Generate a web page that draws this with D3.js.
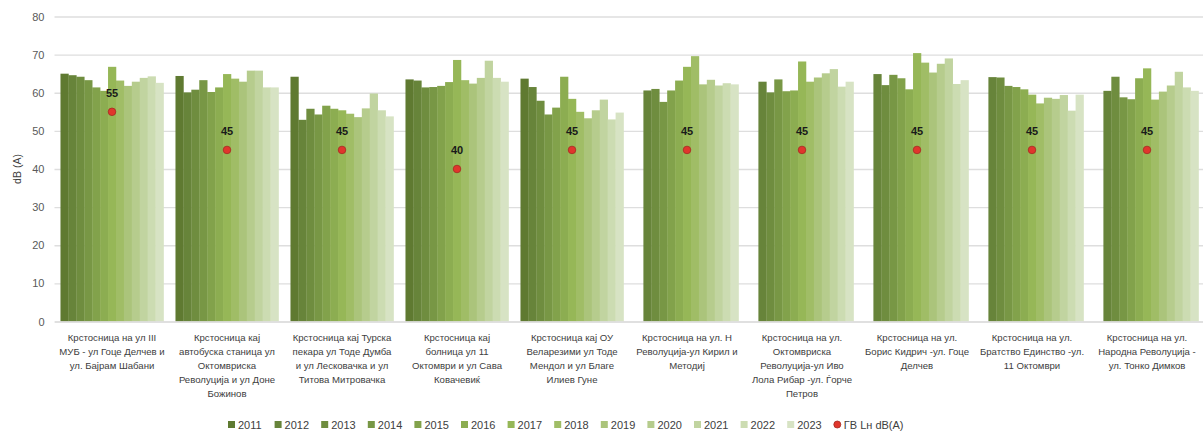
<!DOCTYPE html>
<html>
<head>
<meta charset="utf-8">
<script src="https://cdn.jsdelivr.net/npm/d3@7"></script>
<style>
  body { margin: 0; background: #fff; }
  text { font-family: "Liberation Sans", Arial, sans-serif; }
</style>
</head>
<body>
<div id="chart"></div>
<script>
// years (series)
var years = ["2011","2012","2013","2014","2015","2016","2017","2018","2019","2020","2021","2022","2023"];

// locations, each label already split in lines
var locations = [
  ["Крстосница на ул III", "МУБ - ул Гоце Делчев и", "ул. Бајрам Шабани"],
  ["Крстосница кај", "автобуска станица ул", "Октомвриска", "Револуција и ул Доне", "Божинов"],
  ["Крстосница кај Турска", "пекара ул Тоде Думба", "и ул Лесковачка и ул", "Титова Митровачка"],
  ["Крстосница кај", "болница ул 11", "Октомври и ул Сава", "Ковачевиќ"],
  ["Крстосница кај ОУ", "Веларезими ул Тоде", "Мендол и ул Благе", "Илиев Гуне"],
  ["Крстосница на ул. Н", "Револуција-ул Кирил и", "Методиј"],
  ["Крстосница на ул.", "Октомвриска", "Револуција-ул Иво", "Лола Рибар -ул. Ѓорче", "Петров"],
  ["Крстосница на ул.", "Борис Кидрич -ул. Гоце", "Делчев"],
  ["Крстосница на ул.", "Братство Единство -ул.", "11 Октомври"],
  ["Крстосница на ул.", "Народна Револуција -", "ул. Тонко Димков"]
];

// measured Ln dB(A), one row per location, one value per year (null = no measurement)
var levels = [
  [65.0, 64.6, 64.2, 63.3, 61.4, 60.5, 66.8, 63.2, 61.8, 62.9, 63.9, 64.3, 62.6],
  [64.4, 60.1, 60.8, 63.3, 60.2, 61.4, 64.9, 63.7, 62.9, 65.8, 65.8, 61.4, 61.4],
  [64.2, 52.9, 55.8, 54.3, 56.6, 55.8, 55.4, 54.5, 53.6, 55.9, 59.8, 55.4, 53.8],
  [63.5, 63.2, 61.4, 61.5, 61.8, 62.8, 68.6, 63.3, 62.4, 63.9, 68.4, 63.9, 62.9],
  [63.7, 61.5, 57.9, 54.3, 56.1, 64.2, 58.4, 55.0, 53.3, 55.4, 58.2, 53.0, 54.8],
  [null, 60.6, 61.0, 57.6, 60.6, 63.2, 66.8, 69.6, 62.2, 63.4, 61.9, 62.5, 62.2],
  [null, 62.9, 60.1, 63.5, 60.4, 60.6, 68.2, 62.9, 64.0, 65.1, 66.2, 61.6, 62.9],
  [null, 64.9, 62.0, 64.7, 63.8, 60.9, 70.4, 67.9, 65.3, 67.6, 69.0, 62.3, 63.3],
  [null, 64.1, 64.0, 61.8, 61.5, 60.9, 59.5, 57.2, 58.7, 58.4, 59.4, 55.3, 59.5],
  [null, 60.5, 64.2, 58.8, 58.3, 63.8, 66.4, 58.2, 60.3, 61.9, 65.5, 61.4, 60.5]
];

// limit value ГВ Lн dB(A)
var limits = [55, 45, 45, 40, 45, 45, 45, 45, 45, 45];

var yTicks = [0, 10, 20, 30, 40, 50, 60, 70, 80];

var colors = ["#5f7a31","#67843a","#6f8d3f","#789745","#82a24b","#8cad51","#96b757",
              "#a0bd66","#abc47b","#b6cc8d","#c1d4a0","#ccdcb2","#d7e3c4"];

var W = 1203, H = 434;
var margin = {top: 16.5, left: 54.5, right: -1.5, bottom: 112.5};
var width = W - margin.left - margin.right,
    height = H - margin.top - margin.bottom;

var svg = d3.select("#chart")
  .append("svg")
    .attr("width", W)
    .attr("height", H)
  .append("g")
    .attr("transform", "translate(" + margin.left + "," + margin.top + ")");

var x0 = d3.scaleBand()
  .domain(d3.range(locations.length))
  .range([0, width])
  .paddingInner(0.104)
  .paddingOuter(0.052);

var x1 = d3.scaleBand()
  .domain(years)
  .range([0, x0.bandwidth()]);

var y = d3.scaleLinear()
  .domain([0, 80])
  .range([height, 0]);

var color = d3.scaleOrdinal().domain(years).range(colors);

// Y axis + grid
var gy = svg.append("g")
  .call(d3.axisLeft(y).tickValues(yTicks).tickSize(-width).tickPadding(10));
gy.select(".domain").remove();
gy.selectAll(".tick line").attr("stroke", "#dedede").attr("stroke-width", 1.3);
gy.selectAll(".tick text").attr("fill", "#595959").style("font-size", "11px");

svg.append("text")
  .attr("transform", "translate(-34," + (height / 2) + ")rotate(-90)")
  .attr("text-anchor", "middle")
  .attr("fill", "#404040")
  .style("font-size", "10.5px")
  .text("dB (A)");

// Bars
var groups = svg.selectAll(".loc")
  .data(levels)
  .enter()
  .append("g")
    .attr("class", "loc")
    .attr("transform", function(d, i) { return "translate(" + x0(i) + ",0)"; });

groups.selectAll("rect")
  .data(function(d) {
    return d.map(function(v, j) { return {year: years[j], value: v}; })
            .filter(function(e) { return e.value != null; });
  })
  .enter()
  .append("rect")
    .attr("x", function(d) { return x1(d.year); })
    .attr("width", x1.bandwidth() + 0.3)
    .attr("y", function(d) { return y(d.value); })
    .attr("height", function(d) { return height - y(d.value); })
    .attr("fill", function(d) { return color(d.year); });

// X axis labels
var gx = svg.append("g")
  .attr("transform", "translate(0," + height + ")")
  .call(d3.axisBottom(x0).tickSize(0).tickFormat(""));
gx.select(".domain").attr("stroke", "#dedede").attr("stroke-width", 1.3);

gx.selectAll(".tick").each(function(i) {
  var t = d3.select(this).append("text")
    .attr("fill", "#404040")
    .attr("text-anchor", "middle")
    .style("font-size", "9.6px");
  locations[i].forEach(function(line, k) {
    t.append("tspan")
      .attr("x", 0)
      .attr("y", 19 + k * 14)
      .text(line);
  });
});

// Limit points
svg.selectAll(".lim")
  .data(limits)
  .enter()
  .append("circle")
    .attr("class", "lim")
    .attr("cx", function(d, i) { return x0(i) + x0.bandwidth() / 2; })
    .attr("cy", function(d) { return y(d); })
    .attr("r", 3.8)
    .attr("fill", "#e0362c")
    .attr("stroke", "#a52a22")
    .attr("stroke-width", 0.8);

svg.selectAll(".limlabel")
  .data(limits)
  .enter()
  .append("text")
    .attr("class", "limlabel")
    .attr("x", function(d, i) { return x0(i) + x0.bandwidth() / 2; })
    .attr("y", function(d) { return y(d) - 15; })
    .attr("text-anchor", "middle")
    .attr("fill", "#1a1a1a")
    .style("font-size", "11px")
    .style("font-weight", "bold")
    .text(function(d) { return d; });

// Legend
var legend = d3.select("svg").append("g")
  .attr("transform", "translate(228,425)");

var step = 46.6;
var item = legend.selectAll(".li")
  .data(years)
  .enter()
  .append("g")
    .attr("transform", function(d, i) { return "translate(" + (i * step) + ",0)"; });
item.append("rect")
  .attr("x", 0).attr("y", -4)
  .attr("width", 7).attr("height", 7)
  .attr("fill", function(d) { return color(d); });
item.append("text")
  .attr("x", 10).attr("y", 4)
  .attr("fill", "#404040")
  .style("font-size", "11px")
  .text(function(d) { return d; });

var last = legend.append("g")
  .attr("transform", "translate(" + (years.length * step) + ",0)");
last.append("circle")
  .attr("cx", 3.5).attr("cy", -0.5).attr("r", 3.5)
  .attr("fill", "#e0362c").attr("stroke", "#a52a22").attr("stroke-width", 0.8);
last.append("text")
  .attr("x", 10).attr("y", 4)
  .attr("fill", "#404040")
  .style("font-size", "11px")
  .text("ГВ Lн dB(A)");
</script>
</body>
</html>
